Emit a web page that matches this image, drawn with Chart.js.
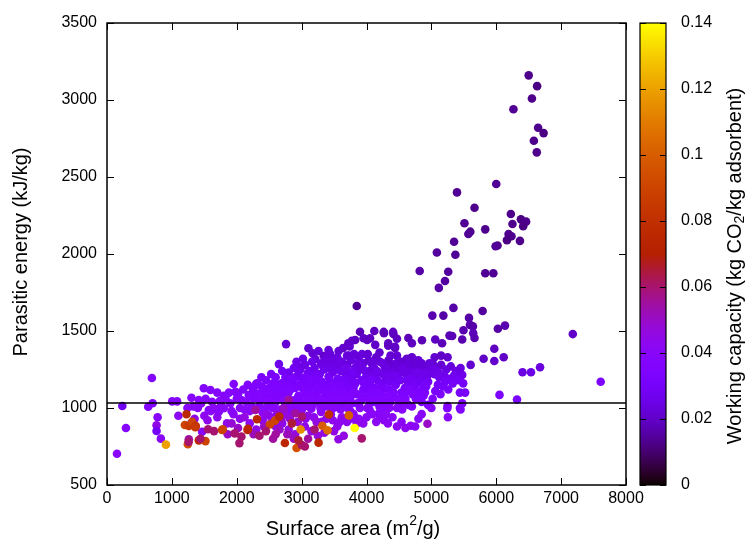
<!DOCTYPE html>
<html>
<head>
<meta charset="utf-8">
<script src="https://cdn.jsdelivr.net/npm/chart.js@4.4.0/dist/chart.umd.min.js"></script>
<style>
  html, body { margin: 0; padding: 0; background: #fff; }
</style>
</head>
<body>
<canvas id="chart" width="750" height="547"></canvas>
<script>
// surface area (m2/g), parasitic energy (kJ/kg), working capacity (kg CO2 / kg adsorbent)
const surfaceArea = [
  6500,6630,6550,6265,6645,6730,6580,6625,6000,5395,
  5665,6225,6380,6460,6415,6250,5510,5600,5570,5830,
  6190,6235,6165,6365,5350,6020,5990,5085,5370,4820,
  5260,5830,5955,5210,5115,5340,5015,5185,5790,5580,
  5595,5640,6025,6135,7180,5495,5645,5665,4270,4415,
  4470,4645,4700,4855,4335,4440,5280,5320,5475,5060,
  5165,5970,5805,5970,6115,6405,6535,6675,7610,6050,
  6320,5605,5475,5490,5440,5520,5475,5245,5450,3900,
  4120,4265,4410,3720,3825,3955,4055,4135,4335,4440,
  2760,3105,3170,3210,3340,3415,3850,3775,4010,3740,
  3550,3620,3700,3760,3820,3880,3950,3980,3600,3680,
  3750,3850,3920,3990,3520,3560,3640,3720,3800,3900,
  4030,4080,4150,4210,4280,4340,4400,4460,4050,4120,
  4190,4260,4320,4380,4440,4500,4100,4170,4240,4300,
  4360,4420,4480,4060,4140,4220,4280,4350,4450,4000,
  4550,4600,4660,4720,4780,4840,4900,4960,4570,4640,
  4700,4760,4820,4880,4940,4990,4620,4680,4750,4820,
  4880,4950,4590,4660,4730,4900,4540,4700,4800,4620,
  5020,5080,5150,5230,5300,5380,5450,5050,5120,5200,
  5280,5350,5420,5100,5180,5260,5330,5050,5150,5250,
  2800,2900,2980,3050,3120,3200,3280,3350,3420,3480,
  2650,2955,2955,3095,3325,2850,3005,3210,3415,3595,
  2290,2310,2440,2260,2185,2695,2100,2150,2350,2420,
  2500,2550,2600,2650,2700,2750,2800,2850,2900,2950,
  3000,3050,3100,3150,3200,3250,3300,3350,3400,3450,
  3500,3550,3600,3650,3700,3750,3800,3850,3900,3950,
  4000,4050,4100,4150,4200,4250,4300,4400,4500,4600,
  2050,2200,2400,2550,2700,2850,3000,3150,3300,3450,
  3600,3750,3900,4050,4200,4350,4550,4700,4850,4950,
  2250,2380,2480,2620,2780,2920,3080,3220,3380,3520,
  3680,3830,3980,4120,4280,4420,4580,4760,4880,5020,
  2330,2470,2580,2730,2880,3020,3170,3320,3470,3620,
  3770,3920,4070,4230,4370,4470,4650,4800,3130,2980,
  2020,2080,2120,2170,2230,2270,2340,2370,2410,2460,
  2520,2560,2610,2640,2680,2720,2760,2790,2830,2870,
  2930,2960,3010,3040,3070,3110,3140,3180,3230,3260,
  3290,3310,3360,3390,3430,3460,3490,3530,3570,3630,
  3660,3690,3730,3780,3810,3870,3930,3960,4020,4070,
  4110,4160,4200,4250,4310,4370,4430,4470,4520,4560,
  4610,4650,4690,4740,4790,4850,4910,4970,5040,5110,
  2380,2450,2530,2600,2700,2750,2880,2920,3020,3160,
  3260,3300,3380,3440,3500,3570,3640,3700,3580,3460,
  2960,3030,3090,3160,3240,3280,3330,3370,3440,3510,
  3540,3590,3660,3710,3790,3860,3940,4010,4080,4180,
  4330,4490,4560,4640,4710,4830,4920,5060,5140,5210,
  4200,4270,4330,4400,4470,4540,4600,4680,4750,4800,
  4000,3950,3880,3800,3700,3620,3550,3480,5250,5440,
  5255,4940,4850,5000,2200,2300,2400,2500,2600,2700,
  2800,2900,3050,3150,3250,3350,3500,3650,2050,1950,
  1850,1700,1600,1500,1400,1350,1300,1550,1800,1700,
  3060,3190,3310,3450,3590,3760,3850,4090,4150,4300,
  2460,2530,2620,2690,2740,2820,2940,3100,3230,3380,
  1330,1450,1520,1620,1680,1760,1880,1920,1240,1100,
  692,236,635,703,1005,1081,292,154,780,764,
  764,830,1302,1415,1492,1594,1569,1646,1723,1800,
  1826,1738,1953,1989,1466,1900,2000,1979,2327,3568,
  1860,1920,2020,2120,2260,2420,2560,2660,2780,2880,
  1225,1200,1261,1312,1369,1261,1246,1415,1518,1558,
  1784,1969,2072,2041,2172,908,2287,2510,2312,2590,
  2655,2799,2722,2902,3004,3420,3728,3320,3399,2985,
  3818,3927,3261,2742,2922,3004,1440,1650,2350,2450,
  2600,3100,3200,2850,1361,1258,1773,2166,2950,3050
];
const parasiticEnergy = [
  3160,3090,3010,2940,2820,2785,2735,2660,2455,2400,
  2300,2260,2225,2210,2180,2195,2200,2145,2130,2160,
  2130,2115,2090,2085,2080,2055,2050,2010,1995,1890,
  1885,1875,1875,1825,1780,1650,1600,1600,1630,1585,
  1540,1530,1515,1535,1480,1505,1485,1455,1485,1480,
  1450,1455,1420,1440,1405,1390,1470,1468,1445,1445,
  1420,1385,1320,1305,1330,1232,1232,1265,1170,1085,
  1055,1280,1215,1160,1100,1100,1030,998,990,1495,
  1500,1494,1494,1420,1442,1453,1453,1410,1420,1398,
  1415,1388,1355,1318,1338,1377,1662,1437,1442,1400,
  1330,1300,1280,1310,1260,1330,1290,1240,1240,1220,
  1200,1220,1180,1200,1270,1190,1160,1150,1170,1250,
  1310,1290,1330,1300,1270,1310,1280,1290,1240,1260,
  1230,1220,1250,1230,1240,1260,1200,1180,1160,1190,
  1170,1190,1210,1150,1130,1110,1130,1120,1150,1120,
  1300,1270,1250,1280,1260,1240,1270,1250,1230,1210,
  1230,1200,1220,1200,1210,1230,1180,1160,1150,1170,
  1140,1170,1130,1110,1120,1100,1100,1330,1310,1320,
  1290,1260,1280,1250,1270,1240,1260,1220,1200,1210,
  1190,1210,1180,1150,1140,1120,1160,1330,1340,1330,
  1230,1200,1250,1280,1240,1260,1220,1250,1280,1230,
  1285,1268,1236,1225,1273,1170,1193,1214,1203,1247,
  1150,1160,1106,1063,1084,1160,1120,1040,1020,1060,
  1130,1080,1040,1110,1070,1020,1100,1050,1130,1080,
  1030,1110,1060,1140,1090,1040,1120,1070,1150,1100,
  1050,1130,1080,1030,1110,1060,1130,1090,1040,1120,
  1070,1030,1100,1060,1010,1080,1040,1070,1030,1060,
  1000,980,970,1000,990,970,985,995,975,1000,
  990,980,1000,985,970,1000,990,1010,1040,1020,
  1120,1140,1050,1150,1140,1020,1170,1150,1110,1160,
  1140,1160,1150,1040,1000,1100,1090,1060,1080,1060,
  1090,1010,1120,1110,1010,1070,1020,1040,1060,1050,
  1030,1080,1110,1050,1040,1000,1020,1080,1090,1150,
  1090,1050,990,1150,1010,1100,1060,990,1130,1090,
  1030,1160,1080,990,1140,1050,1170,1000,1120,1190,
  1060,1000,1130,1050,1200,1010,1180,1060,1190,1110,
  1000,1170,1110,1040,1190,1130,1000,1090,1040,1110,
  1190,1260,1340,1230,1350,1290,1350,1160,1350,1180,
  1300,1240,1360,1290,1210,1340,1210,1340,1180,1260,
  1240,1290,1190,1310,1230,1290,1230,1290,1250,1230,
  1200,1180,1220,1200,1240,1200,1260,1300,1320,1300,
  1370,1290,1320,1350,1310,1370,1390,1340,1290,1250,
  1150,1010,1140,1070,1130,1060,1150,1010,1070,1120,
  1010,1150,1070,1000,1100,1030,1060,1000,1060,1100,
  1080,1060,1040,1120,1090,1110,1140,1110,1090,1170,
  950,920,900,940,880,910,870,885,880,930,
  940,900,930,960,910,940,880,920,1013,1000,
  940,898,960,1000,900,860,920,950,880,900,
  860,830,880,850,820,840,850,820,930,960,
  900,940,980,950,1000,930,900,920,1080,1100,
  930,940,910,960,910,930,900,960,910,960,
  960,900,960,930,960,930,910,950,910,930,
  1010,1030,1060,1040,990,1020,1100,980,1000,950,
  1195,1013,1008,1031,1043,1043,870,703,940,888,
  851,801,1067,1052,1128,1117,987,998,976,998,
  1063,1045,1156,1102,846,1030,1060,1106,1156,797,
  830,900,870,940,830,880,800,860,830,800,
  959,890,883,911,883,797,765,790,785,862,
  862,835,814,772,865,762,987,893,927,918,
  944,1052,998,966,944,958,952,885,855,860,
  870,803,775,773,740,760,800,850,820,850,
  830,800,860,900,875,780,857,857,790,750
];
const workingCapacity = [
  .013,.012,.013,.014,.013,.012,.013,.013,.014,.014,
  .013,.013,.012,.013,.012,.013,.014,.013,.014,.013,
  .013,.013,.012,.013,.014,.013,.014,.015,.014,.016,
  .015,.014,.014,.015,.016,.016,.017,.016,.015,.016,
  .017,.016,.016,.017,.020,.017,.018,.017,.019,.018,
  .019,.018,.019,.018,.020,.019,.017,.018,.017,.019,
  .018,.019,.020,.021,.020,.024,.025,.024,.033,.034,
  .033,.021,.026,.030,.031,.032,.036,.035,.036,.018,
  .019,.018,.019,.020,.019,.020,.019,.020,.019,.020,
  .022,.021,.022,.023,.021,.022,.014,.020,.019,.021,
  .024,.025,.023,.024,.026,.022,.024,.026,.027,.026,
  .028,.027,.029,.028,.025,.030,.031,.030,.029,.025,
  .022,.023,.021,.022,.024,.021,.022,.023,.025,.024,
  .025,.026,.024,.025,.024,.023,.027,.028,.029,.027,
  .028,.027,.026,.030,.031,.032,.031,.032,.030,.032,
  .022,.023,.024,.022,.023,.024,.022,.023,.025,.026,
  .025,.027,.026,.027,.026,.025,.028,.029,.030,.028,
  .030,.029,.031,.032,.031,.033,.032,.021,.022,.021,
  .022,.023,.022,.024,.023,.025,.024,.026,.027,.026,
  .028,.027,.029,.030,.031,.032,.030,.021,.020,.021,
  .027,.029,.026,.025,.027,.026,.028,.027,.025,.027,
  .026,.025,.027,.028,.026,.031,.030,.029,.029,.027,
  .034,.033,.035,.036,.037,.032,.036,.038,.039,.037,
  .034,.036,.038,.035,.036,.039,.035,.037,.033,.036,
  .038,.034,.036,.032,.035,.037,.033,.035,.031,.034,
  .036,.032,.034,.037,.033,.035,.032,.034,.036,.032,
  .034,.036,.033,.035,.037,.034,.036,.035,.037,.036,
  .040,.041,.042,.040,.041,.042,.041,.040,.041,.039,
  .039,.040,.038,.039,.040,.038,.039,.037,.036,.036,
  .035,.034,.038,.033,.033,.039,.031,.032,.033,.031,
  .031,.030,.031,.036,.038,.034,.034,.035,.034,.034,
  .037,.040,.035,.034,.040,.036,.039,.038,.036,.036,
  .037,.034,.033,.036,.036,.038,.037,.034,.035,.032,
  .037,.038,.040,.035,.039,.036,.037,.040,.035,.036,
  .038,.034,.036,.040,.034,.037,.033,.039,.034,.032,
  .036,.039,.034,.037,.031,.039,.032,.036,.031,.034,
  .039,.032,.034,.037,.031,.033,.039,.035,.037,.034,
  .030,.027,.024,.028,.023,.025,.023,.031,.022,.030,
  .023,.026,.021,.024,.027,.022,.027,.022,.028,.025,
  .025,.023,.028,.022,.026,.023,.026,.023,.025,.026,
  .032,.033,.031,.032,.030,.031,.028,.026,.025,.026,
  .023,.025,.024,.023,.024,.022,.021,.023,.025,.026,
  .033,.039,.033,.036,.034,.036,.032,.039,.036,.034,
  .038,.032,.036,.039,.034,.037,.036,.038,.036,.034,
  .035,.036,.037,.033,.034,.033,.031,.032,.033,.030,
  .040,.041,.042,.040,.042,.041,.043,.042,.041,.040,
  .041,.043,.042,.041,.043,.042,.044,.043,.037,.036,
  .040,.050,.040,.038,.042,.045,.043,.042,.044,.043,
  .045,.046,.044,.045,.047,.046,.045,.046,.043,.042,
  .044,.043,.042,.043,.041,.044,.045,.044,.038,.037,
  .043,.042,.044,.041,.043,.042,.043,.041,.042,.041,
  .045,.048,.045,.048,.046,.047,.047,.044,.046,.045,
  .040,.039,.038,.038,.040,.040,.037,.040,.040,.042,
  .036,.028,.037,.036,.038,.038,.038,.040,.040,.045,
  .030,.040,.038,.039,.037,.037,.040,.041,.040,.040,
  .038,.039,.036,.037,.040,.039,.038,.037,.035,.045,
  .050,.048,.050,.046,.052,.050,.055,.050,.052,.050,
  .075,.090,.085,.090,.080,.055,.095,.075,.090,.060,
  .090,.060,.060,.060,.075,.120,.055,.090,.075,.090,
  .075,.055,.050,.055,.060,.080,.100,.100,.105,.115,
  .140,.060,.075,.075,.095,.060,.060,.060,.060,.060,
  .055,.055,.060,.065,.085,.060,.090,.075,.065,.060
];
const threshold = 1030;
const xTickValues = [0, 1000, 2000, 3000, 4000, 5000, 6000, 7000, 8000];
const yTickValues = [500, 1000, 1500, 2000, 2500, 3000, 3500];
const cbTickValues = [0, 0.02, 0.04, 0.06, 0.08, 0.1, 0.12, 0.14];
const wcMax = 0.14;

const FONT = "'Liberation Sans', Arial, sans-serif";

// gnuplot default palette (rgbformulae 7,5,15)
function palette(v) {
  const t = Math.min(Math.max(v / wcMax, 0), 1);
  const r = Math.sqrt(t), g = t * t * t, b = Math.max(0, Math.sin(2 * Math.PI * t));
  return 'rgb(' + Math.round(r * 255) + ',' + Math.round(g * 255) + ',' + Math.round(b * 255) + ')';
}

const points = surfaceArea.map((x, i) => ({ x: x, y: parasiticEnergy[i] }));
const colors = workingCapacity.map(palette);

// text with a raised or lowered small part
function richText(ctx, parts, cx, cy, size) {
  const small = Math.round(size * 0.7);
  let total = 0;
  parts.forEach(p => {
    ctx.font = (p.sup || p.sub ? small : size) + 'px ' + FONT;
    p.w = ctx.measureText(p.t).width;
    total += p.w;
  });
  let x = cx - total / 2;
  parts.forEach(p => {
    ctx.font = (p.sup || p.sub ? small : size) + 'px ' + FONT;
    let dy = 0;
    if (p.sup) dy = -size * 0.38;
    if (p.sub) dy = size * 0.25;
    ctx.fillText(p.t, x, cy + dy);
    x += p.w;
  });
}

const framePlugin = {
  id: 'frame',
  afterDatasetsDraw(chart) {
    const { ctx, chartArea: a, scales } = chart;
    const x = scales.x, y = scales.y, cb = scales.cb;
    ctx.save();
    ctx.strokeStyle = '#000';

    // reference line
    const ty = Math.round(y.getPixelForValue(threshold));
    ctx.lineWidth = 1.5;
    ctx.beginPath(); ctx.moveTo(a.left, ty); ctx.lineTo(a.right, ty); ctx.stroke();

    // inner tick marks on all four sides
    ctx.lineWidth = 1;
    ctx.beginPath();
    xTickValues.forEach(v => {
      const px = Math.round(x.getPixelForValue(v)) + 0.5;
      ctx.moveTo(px, a.bottom); ctx.lineTo(px, a.bottom - 7);
      ctx.moveTo(px, a.top); ctx.lineTo(px, a.top + 7);
    });
    yTickValues.forEach(v => {
      const py = Math.round(y.getPixelForValue(v)) + 0.5;
      ctx.moveTo(a.left, py); ctx.lineTo(a.left + 7, py);
      ctx.moveTo(a.right, py); ctx.lineTo(a.right - 7, py);
    });
    ctx.stroke();

    ctx.lineWidth = 1.5;
    ctx.strokeRect(a.left, a.top, a.right - a.left, a.bottom - a.top);

    // colour bar
    const bx = a.right + 14, bw = 26;
    const top = cb.getPixelForValue(wcMax), bot = cb.getPixelForValue(0);
    for (let py = Math.floor(top); py < bot; py++) {
      ctx.fillStyle = palette(cb.getValueForPixel(py + 0.5));
      ctx.fillRect(bx, py, bw, 1);
    }
    ctx.lineWidth = 1;
    ctx.beginPath();
    cbTickValues.forEach(v => {
      const py = Math.round(cb.getPixelForValue(v)) + 0.5;
      ctx.moveTo(bx, py); ctx.lineTo(bx + 6, py);
      ctx.moveTo(bx + bw, py); ctx.lineTo(bx + bw - 6, py);
    });
    ctx.stroke();
    ctx.lineWidth = 1.2;
    ctx.strokeRect(bx, top, bw, bot - top);

    // axis titles
    ctx.fillStyle = '#000';
    ctx.textBaseline = 'middle';
    ctx.textAlign = 'left';
    richText(ctx, [{ t: 'Surface area (m' }, { t: '2', sup: true }, { t: '/g)' }], 353, 529, 20);

    ctx.save();
    ctx.translate(21, 252);
    ctx.rotate(-Math.PI / 2);
    richText(ctx, [{ t: 'Parasitic energy (kJ/kg)' }], 0, 0, 20);
    ctx.restore();

    ctx.save();
    ctx.translate(735, 266);
    ctx.rotate(-Math.PI / 2);
    richText(ctx, [{ t: 'Working capacity (kg CO' }, { t: '2', sub: true }, { t: '/kg adsorbent)' }], 0, 0, 20);
    ctx.restore();

    ctx.restore();
  }
};

const tickFont = { family: FONT, size: 16 };
const plain = v => String(+(+v).toFixed(2));

new Chart(document.getElementById('chart'), {
  type: 'scatter',
  data: {
    datasets: [{
      data: points,
      backgroundColor: colors,
      borderWidth: 0,
      pointRadius: 4.3,
      pointHoverRadius: 4.3
    }]
  },
  options: {
    responsive: false,
    animation: false,
    layout: { padding: { top: 23, left: 0, right: 0, bottom: 0 } },
    plugins: { legend: { display: false }, tooltip: { enabled: false } },
    scales: {
      x: {
        type: 'linear', min: 0, max: 8000,
        afterBuildTicks: s => { s.ticks = xTickValues.map(v => ({ value: v })); },
        ticks: { color: '#000', font: tickFont, padding: 4, maxRotation: 0, callback: plain },
        grid: { display: false, drawTicks: false, tickLength: 0 },
        border: { display: false },
        afterFit: s => { s.height = 62; }
      },
      y: {
        type: 'linear', min: 500, max: 3500,
        afterBuildTicks: s => { s.ticks = yTickValues.map(v => ({ value: v })); },
        ticks: { color: '#000', font: tickFont, padding: 10, callback: plain },
        grid: { display: false, drawTicks: false, tickLength: 0 },
        border: { display: false },
        afterFit: s => { s.width = 107; }
      },
      cb: {
        type: 'linear', position: 'right', axis: 'y', min: 0, max: wcMax,
        afterBuildTicks: s => { s.ticks = cbTickValues.map(v => ({ value: v })); },
        ticks: { color: '#000', font: tickFont, padding: 3, callback: plain },
        grid: { display: true, drawOnChartArea: false, drawTicks: true, tickLength: 52, tickColor: 'rgba(0,0,0,0)' },
        border: { display: false },
        afterFit: s => { s.width = 124; }
      }
    }
  },
  plugins: [framePlugin]
});
</script>
</body>
</html>
